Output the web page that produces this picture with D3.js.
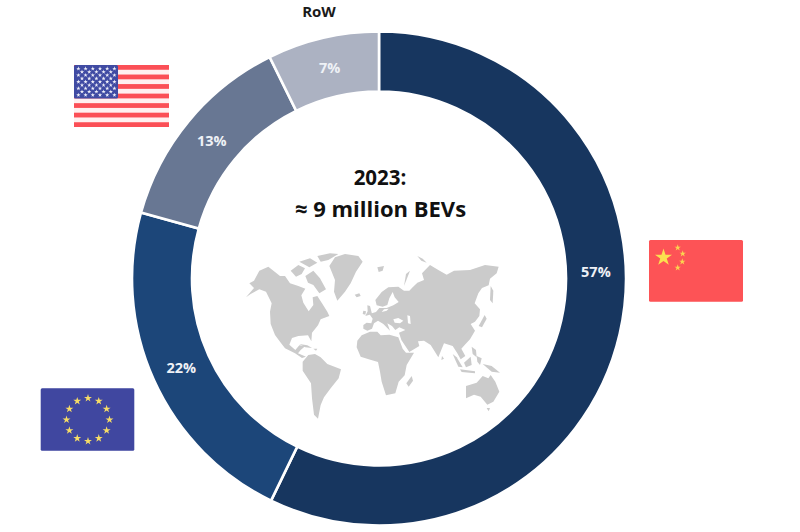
<!DOCTYPE html>
<html><head><meta charset="utf-8">
<script src="https://cdnjs.cloudflare.com/ajax/libs/d3/7.8.5/d3.min.js"></script>
<style>html,body{margin:0;padding:0;background:#fff}svg{display:block}text{font-family:"Open Sans",sans-serif}</style>
</head><body><svg id="c" width="800" height="532"></svg>
<script>
const regions = ["China","EU","USA","RoW"];
const shares = [57.2,22.1,13.4,7.3];
const shareLabels = ["57%","22%","13%","7%"];
const labelShiftDeg = [-14.7,0,0,0];
const sliceColors = ["#17365f","#1c4679","#687793","#acb2c2"];
const titleLines = ["2023:","≈ 9 million BEVs"];

// Outlines, in map units
const land = [
 // North America
 [[58,100],[72,92],[88,62],[115,50],[135,66],[150,78],[165,78],[180,100],[205,108],[226,116],[214,136],[220,158],[236,184],[250,165],[248,142],[262,138],[276,160],[292,185],[298,198],[272,208],[264,226],[246,248],[244,274],[234,256],[205,258],[186,264],[178,284],[196,300],[208,286],[226,288],[212,300],[204,310],[228,320],[216,324],[195,310],[165,295],[150,275],[135,255],[122,222],[120,185],[125,160],[108,125],[88,118],[62,132],[48,142],[72,114]],
 // Cuba and Hispaniola
 [[208,282],[232,286],[246,294],[226,292]],[[250,296],[262,296],[258,302]],
 // Arctic islands
 [[182,62],[205,45],[225,55],[215,72],[198,80]],[[208,35],[240,25],[262,38],[238,52]],[[226,78],[250,62],[270,85],[288,118],[268,130],[250,105],[234,98]],[[262,18],[300,10],[325,12],[295,30],[272,35]],
 // Greenland
 [[298,48],[315,22],[345,12],[385,18],[398,35],[378,65],[362,100],[345,125],[322,152],[312,125],[315,90]],
 // Iceland, UK, Ireland, Svalbard, Novaya Zemlya
 [[374,134],[388,130],[392,138],[380,142]],[[412,166],[420,168],[426,192],[406,198],[413,184]],[[400,182],[408,184],[406,194],[398,192]],
 [[442,52],[462,48],[458,62],[446,66]],[[528,72],[540,62],[530,88],[522,108]],[[562,18],[578,26],[590,38],[574,32]],
 // South America
 [[235,315],[255,312],[272,322],[292,342],[333,358],[326,385],[302,415],[282,442],[272,465],[264,506],[252,494],[246,445],[243,400],[218,362],[218,335]],
 // Africa
 [[395,256],[420,245],[442,245],[452,256],[478,254],[505,262],[518,296],[528,308],[552,308],[530,345],[524,376],[506,395],[496,430],[468,436],[455,395],[450,365],[444,336],[416,328],[392,320],[380,292],[382,272]],
 // Madagascar
 [[545,378],[549,392],[536,410],[529,400]],
 // Eurasia
 [[400,236],[400,225],[410,218],[424,220],[428,206],[418,192],[438,186],[448,174],[470,174],[490,166],[506,156],[494,142],[488,126],[478,145],[472,165],[458,170],[440,166],[436,150],[455,126],[475,112],[505,110],[522,122],[538,122],[548,112],[562,98],[582,90],[576,70],[600,45],[625,60],[650,74],[672,62],[720,60],[765,45],[806,50],[800,70],[780,86],[776,106],[756,114],[745,130],[734,160],[750,178],[748,198],[735,215],[722,222],[735,242],[720,268],[704,285],[694,296],[706,318],[692,328],[682,310],[668,288],[642,280],[625,322],[602,285],[582,272],[564,274],[568,288],[538,306],[514,270],[507,248],[526,240],[508,232],[496,240],[486,228],[472,220],[480,242],[460,222],[444,212],[432,220],[426,236],[412,242]],
 // Japan and Sakhalin
 [[782,108],[790,122],[788,160],[780,150]],[[764,195],[770,206],[756,232],[746,228]],
 // Sri Lanka, Sumatra, Borneo, Java, Philippines, Sulawesi
 [[636,318],[642,326],[634,330]],[[668,312],[680,322],[698,352],[685,350]],[[702,338],[722,320],[725,345],[708,352]],[[690,358],[735,364],[735,370],[695,366]],[[725,290],[738,300],[740,322],[728,312]],[[740,318],[755,325],[750,345],[742,335]],
 // New Guinea
 [[758,342],[785,348],[810,368],[785,365]],
 // Australia
 [[708,408],[740,398],[758,378],[775,385],[782,375],[796,395],[808,425],[790,455],[772,464],[752,440],[732,434],[708,445]],
 [[770,474],[780,474],[776,484]]
];
// Inland water cut back out of the land
const water = [
 [[490,208],[505,204],[520,212],[510,220],[494,218]],
 [[532,196],[540,198],[542,222],[534,220]],
 [[455,186],[470,182],[476,176],[462,178]]
];

const cx=379, cy=278.5, rOuter=247, rInner=187, rLabel=217;
const svg = d3.select("#c");
const defs = svg.append("defs");
defs.append("filter").attr("id","soft").append("feGaussianBlur").attr("stdDeviation",0.7);

// Ring
const pie = d3.pie().sort(null).value(d=>d);
const arc = d3.arc().innerRadius(rInner).outerRadius(rOuter);
const ring = svg.append("g").attr("transform",`translate(${cx},${cy})`);
const arcs = pie(shares);
ring.selectAll("path").data(arcs).join("path")
  .attr("d",arc).attr("fill",(d,i)=>sliceColors[i])
  .attr("stroke","#fff").attr("stroke-width",2.6).attr("stroke-linejoin","miter");
ring.selectAll("text").data(arcs).join("text")
  .attr("transform",(d,i)=>{
    const a=(d.startAngle+d.endAngle)/2+labelShiftDeg[i]*Math.PI/180;
    return `translate(${rLabel*Math.sin(a)},${-rLabel*Math.cos(a)})`;
  })
  .attr("text-anchor","middle").attr("dy","0.38em")
  .attr("font-size",14.5).attr("font-weight",700).attr("fill","#eef1f6")
  .text((d,i)=>shareLabels[i]);

// Centre title
svg.append("text").attr("x",380).attr("y",185).attr("text-anchor","middle")
  .attr("font-size",20.5).attr("font-weight",700).attr("fill","#111").text(titleLines[0]);
svg.append("text").attr("x",380.5).attr("y",217).attr("text-anchor","middle")
  .attr("font-size",22).attr("font-weight",700).attr("fill","#111").text(titleLines[1]);

// RoW label
svg.append("text").attr("x",319).attr("y",17).attr("text-anchor","middle")
  .attr("font-size",15).attr("font-weight",700).attr("fill","#1a1a1a").text(regions[3]);

// Map
const mx = d3.scaleLinear().domain([0,870]).range([230,520]);
const my = d3.scaleLinear().domain([0,540]).range([250,430]);
const outline = d3.line().x(d=>mx(d[0])).y(d=>my(d[1])).curve(d3.curveLinearClosed);
const mapG = svg.append("g").attr("filter","url(#soft)");
mapG.selectAll("path.l").data(land).join("path").attr("class","l")
  .attr("d",outline).attr("fill","#cbcbcb");
mapG.selectAll("path.w").data(water).join("path").attr("class","w")
  .attr("d",outline).attr("fill","#fff");

// Flags
const star = d3.symbol().type(d3.symbolStar);
const starSize = r=>r*r/0.8908;
function addStar(g,x,y,r,fill){
  g.append("path").attr("d",star.size(starSize(r))()).attr("transform",`translate(${x},${y})`).attr("fill",fill);
}
// USA
const us = svg.append("g").attr("filter","url(#soft)");
const usX=74, usW=95, usY=65, usH=62;
us.append("rect").attr("x",usX).attr("y",usY).attr("width",usW).attr("height",usH).attr("rx",1.5).attr("fill","#fff0f0");
const stripes = d3.range(13).filter(i=>i%2===0);
const stripeY = d3.scaleLinear().domain([0,13]).range([usY,usY+usH]);
us.selectAll("rect.s").data(stripes).join("rect").attr("class","s")
  .attr("x",usX).attr("width",usW).attr("y",d=>stripeY(d)).attr("height",usH/13).attr("fill","#fb4f57");
us.append("rect").attr("x",usX).attr("y",usY).attr("width",44).attr("height",33.4).attr("rx",1.5).attr("fill","#3f4ba3");
d3.range(9).forEach(r=>{
  const n = r%2? 5:6;
  d3.range(n).forEach(c=>addStar(us,usX+4.4+(r%2?3.6:0)+c*7.2,usY+3.6+r*3.3,2.3,"#eeeef8"));
});
// EU
const eu = svg.append("g").attr("filter","url(#soft)");
eu.append("rect").attr("x",40.7).attr("y",388.3).attr("width",93.6).attr("height",62.4).attr("rx",1.5).attr("fill","#3f46a0");
d3.range(12).forEach(i=>{
  const a=i*Math.PI/6;
  addStar(eu,88+21.5*Math.sin(a),419.7-21.5*Math.cos(a),4.2,"#f6dc66");
});
// China
const cn = svg.append("g").attr("filter","url(#soft)");
cn.append("rect").attr("x",649).attr("y",240).attr("width",94).attr("height",61.7).attr("rx",1.5).attr("fill","#fd5256");
addStar(cn,663.5,257.5,9,"#fbe04f");
[[677.7,247.7],[682.7,253.7],[682.3,261.7],[677.7,267.7]].forEach(p=>addStar(cn,p[0],p[1],3.4,"#fbd450"));
</script></body></html>
